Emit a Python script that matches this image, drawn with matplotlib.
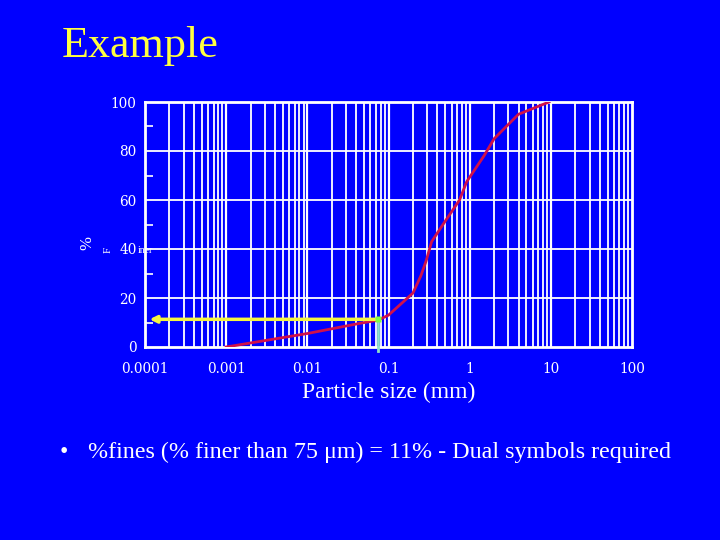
import numpy as np
import matplotlib
matplotlib.use("Agg")
import matplotlib.pyplot as plt
from matplotlib.ticker import FixedLocator, NullFormatter

# Data
size_mm = [0.001, 0.01, 0.045, 0.075, 0.1, 0.2, 0.25, 0.29, 0.34, 0.48, 0.75, 0.92, 1.5, 2.0, 4.0, 9.5]
pct_finer = [0, 5.5, 9.7, 11, 13, 22, 29, 35, 43, 50.5, 60, 67.5, 78, 85, 95, 100]
fines_size = 0.075
fines_pct = 11.3
xticks = [0.0001, 0.001, 0.01, 0.1, 1, 10, 100]
xtick_labels = ["0.0001", "0.001", "0.01", "0.1", "1", "10", "100"]
yticks = [0, 20, 40, 60, 80, 100]
yminor = [10, 30, 50, 70, 90]

BG = "#0000FF"
fig = plt.figure(figsize=(7.2, 5.4), dpi=100, facecolor=BG)
ax = fig.add_axes([145/720, 1-347/540, 487/720, 245/540])
ax.set_facecolor(BG)
ax.set_xscale("log")
ax.set_xlim(0.0001, 100)
ax.set_ylim(0, 100)

# grid
for d in range(-4, 2):
    for m in range(1, 10):
        v = m * 10.0**d
        if v <= 0.0001:
            continue
        ax.axvline(v, color="white", lw=1.6 if m == 1 else 1.3, zorder=1)
for yv in yticks[1:-1]:
    ax.axhline(yv, color="white", lw=1.3, zorder=1)

for s in ax.spines.values():
    s.set_color("white")
    s.set_linewidth(2)

ax.set_xticks(xticks)
ax.set_xticklabels(xtick_labels)
ax.xaxis.set_minor_locator(FixedLocator([]))
ax.xaxis.set_minor_formatter(NullFormatter())
ax.set_yticks(yticks)
ax.yaxis.set_minor_locator(FixedLocator(yminor))
ax.tick_params(axis="x", which="major", length=0, colors="white", pad=11)
ax.tick_params(axis="y", which="major", length=0, colors="white", pad=6)
ax.tick_params(axis="y", which="minor", direction="in", length=6, width=1.2, color="white")
for lab in ax.get_xticklabels() + ax.get_yticklabels():
    lab.set_fontfamily("DejaVu Serif")
    lab.set_fontsize(9.8)
    lab.set_color("white")

ax.set_xlabel("Particle size (mm)", family="Liberation Serif", fontsize=17, color="white", labelpad=4)

# curve
ax.plot(size_mm, pct_finer, color="#D0104A", lw=2, zorder=3)

# fines marker
ax.plot([fines_size, fines_size], [fines_pct, -1.5], color="#90E0C8", lw=2, zorder=4, clip_on=False)
ax.annotate("", xy=(0.000105, fines_pct), xytext=(fines_size, fines_pct),
            arrowprops=dict(arrowstyle="-|>", color="#F5F540", lw=2.5, mutation_scale=10), zorder=5)
ax.plot([fines_size], [fines_pct], marker="s", ms=5, color="#80FF40", zorder=6, mec="none")

# y label (garbled in original)
fig.text(87/720, 1-243/540, "%", rotation=90, family="Liberation Serif", fontsize=12,
         color="white", ha="center", va="center")
fig.text(108/720, 1-250/540, "F", rotation=90, family="Liberation Serif", fontsize=8,
         color="white", ha="center", va="center")
fig.text(138/720, 1-250/540, "iner", family="Liberation Serif", fontsize=7,
         color="white", ha="left", va="center")

# title and bullet
fig.text(62/720, 1-57/540, "Example", family="Liberation Serif", fontsize=31.8,
         color="#FFFF40", ha="left", va="baseline")
fig.text(60/720, 1-458/540, "•", family="Liberation Serif", fontsize=17,
         color="white", ha="left", va="baseline")
fig.text(88/720, 1-458/540, "%fines (% finer than 75 μm) = 11% - Dual symbols required",
         family="Liberation Serif", fontsize=17.3, color="white", ha="left", va="baseline")

fig.savefig("out.png", dpi=100, facecolor=BG)
